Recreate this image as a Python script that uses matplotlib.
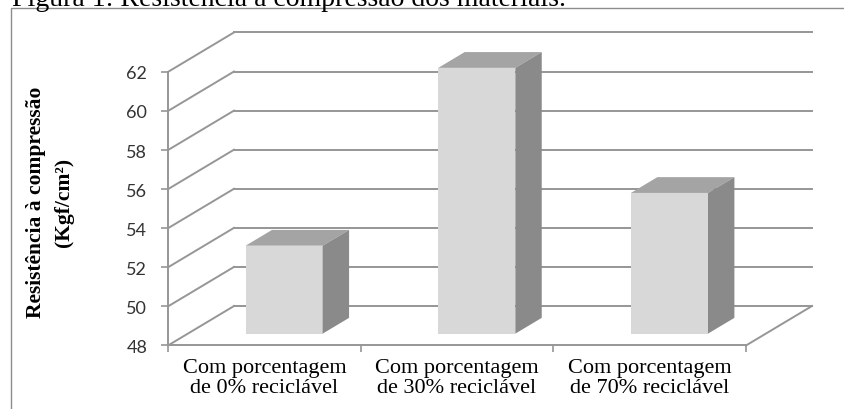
import numpy as np
import matplotlib
matplotlib.use("Agg")
import matplotlib.pyplot as plt
from matplotlib.patches import Rectangle

# data
categories = ["Com porcentagem\nde 0% reciclável",
              "Com porcentagem\nde 30% reciclável",
              "Com porcentagem\nde 70% reciclável"]
resistencia = [52.5, 61.6, 55.2]
y_ticks = [48, 50, 52, 54, 56, 58, 60, 62]

# fake 3D look (Excel style): full depth offset in data units
KX = 0.3426   # category units
KY = 2.02     # value units
D0, D1 = 0.3, 0.7   # bar depth span (fraction of full depth)
BAR_W = 0.4
grid_col = "#969696"

fig = plt.figure(figsize=(8.44, 4.10), dpi=100)
ax = fig.add_axes([168 / 844, 0.1549, (812 - 168) / 844, 0.9185 - 0.1549])
ax.set_xlim(-0.5, 2.5 + KX)
ax.set_ylim(48, 62 + KY)
for s in ax.spines.values():
    s.set_visible(False)

# walls / floor gridlines
for v in y_ticks:
    ax.plot([-0.5, -0.5 + KX], [v, v + KY], color=grid_col, lw=1.4, clip_on=False, zorder=1)
    ax.plot([-0.5 + KX, 2.5 + KX], [v + KY, v + KY], color=grid_col, lw=1.4, clip_on=False, zorder=1)
ax.plot([2.5, 2.5 + KX], [48, 48 + KY], color=grid_col, lw=1.4, clip_on=False, zorder=1)

# front axes lines
ax.plot([-0.5, -0.5], [48, 62], color=grid_col, lw=1.4, clip_on=False, zorder=2)
ax.plot([-0.5, 2.5], [48, 48], color=grid_col, lw=1.4, clip_on=False, zorder=2)

# bars
x = np.arange(len(categories))
vals = np.array(resistencia)
base = 48 + D0 * KY
ax.bar(x + D0 * KX, vals - 48, width=BAR_W, bottom=base, color="#d8d8d8", zorder=3)
dkx = (D1 - D0) * KX
dky = (D1 - D0) * KY
for xi, v in zip(x, vals):
    x0 = xi - BAR_W / 2 + D0 * KX
    x1 = x0 + BAR_W
    top = v + D0 * KY
    ax.fill([x0, x1, x1 + dkx, x0 + dkx], [top, top, top + dky, top + dky],
            color="#a4a4a4", zorder=3, lw=0)
    ax.fill([x1, x1 + dkx, x1 + dkx, x1], [base, base + dky, top + dky, top],
            color="#8a8a8a", zorder=3, lw=0)

# ticks
ax.set_yticks(y_ticks)
ax.set_yticklabels([str(t) for t in y_ticks], family="Lato", fontsize=13, color="#333333")
ax.tick_params(axis="y", length=5, width=1.2, color=grid_col, pad=10)
ax.set_xticks(x)
ax.set_xticklabels(categories, family="Liberation Serif", fontsize=16, linespacing=1.1)
ax.tick_params(axis="x", length=0, pad=9)
ax.set_xticks([-0.5, 0.5, 1.5, 2.5], minor=True)
ax.tick_params(axis="x", which="minor", length=5, width=1.2, color=grid_col)

# y label
fig.text(50 / 844, 1 - 202 / 410, "Resistência à compressão\n(Kgf/cm²)", rotation=90,
         ha="center", va="center", family="Liberation Serif", fontweight="bold",
         fontsize=15.5, linespacing=1.55)

# caption (cut off at top of the image)
fig.text(12 / 844, 1 - 6 / 410, "Figura 1: Resistência à compressão dos materiais.",
         va="baseline", ha="left", family="Liberation Serif", fontsize=20)

# frame
fig.add_artist(Rectangle((10.7 / 844, -0.05), 1.2, 1 - 9 / 410 + 0.05, fill=False,
                         edgecolor="#8c8c8c", lw=1, transform=fig.transFigure, clip_on=False))

fig.savefig("out.png", dpi=100)
